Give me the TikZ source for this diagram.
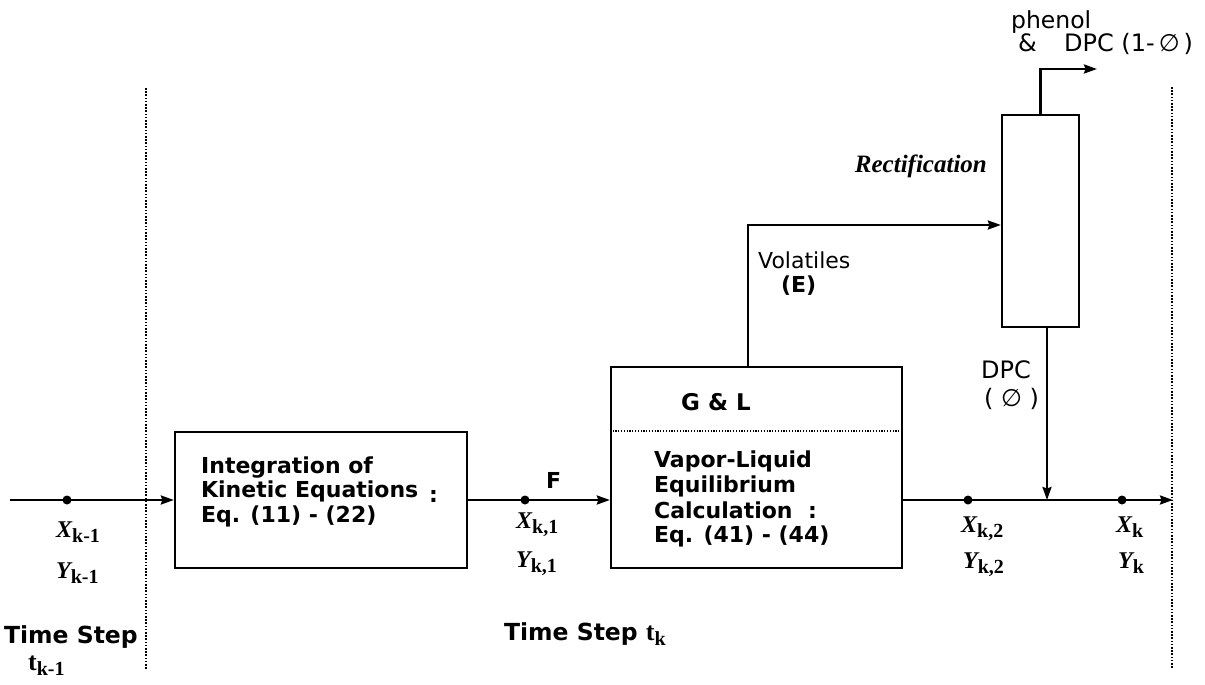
\documentclass[tikz,border=0pt]{standalone}
\usepackage{fontspec}
\usetikzlibrary{arrows.meta}
\newfontfamily\dv{DejaVu Sans}
\newfontfamily\tm{Liberation Serif}
\newcommand{\lsub}[1]{\raisebox{-5pt}{\fontsize{20}{20}\selectfont\tm\bfseries #1}}
\newcommand{\varlbl}[2]{{\fontsize{24}{24}\selectfont\tm\bfseries\itshape #1}\lsub{#2}}
\begin{document}
\begin{tikzpicture}[x=1pt,y=-1pt,
  line width=2.3pt,
  arr/.style={-{Stealth[length=13pt,width=9pt,inset=1.5pt]}},
  box/.style={draw,rectangle,inner sep=0pt},
  dot/.style={circle,fill,inner sep=0pt,minimum size=9pt},
  bl/.style={inner sep=0pt,anchor=base west,font=\dv\bfseries\fontsize{22}{25}\selectfont},
  rl/.style={inner sep=0pt,anchor=base west,font=\dv\fontsize{22}{25}\selectfont},
  vl/.style={inner sep=0pt,anchor=base west},
  sep/.style={line width=2.6pt,dash pattern=on 1.6pt off 1.6pt}
]
\useasboundingbox (0,0) rectangle (1205,685);

% boxes
\node[box,minimum width=292pt,minimum height=136pt] (b1) at (321,500) {};
\node[box,minimum width=291pt,minimum height=201pt] (b2) at (756.5,467.5) {};
\node[box,minimum width=77pt,minimum height=212pt] (col) at (1040.5,221) {};
\coordinate (dv) at (756.5,431);
\draw[line width=1.3pt,dash pattern=on 1.1pt off 1.7pt] (dv -| b2.west) -- (dv -| b2.east);

% time step separators
\coordinate (l1) at (146,88);
\coordinate (l2) at (146,670);
\coordinate (r1) at (1172,87);
\coordinate (r2) at (1172,668);
\draw[sep] (l1) -- (l2);
\draw[sep] (r1) -- (r2);

% main stream
\coordinate (start) at (10,500);
\coordinate (end) at (1173,500);
\coordinate (dj) at (1047,500);
\draw[arr] (start) -- (b1.west);
\draw[arr] (b1.east) -- (b2.west |- b1.east);
\draw[arr] (b2.east |- end) -- (end);
\node[dot] (d0) at (67,500) {};
\node[dot] (d1) at (525,500) {};
\node[dot] (d2) at (968,500) {};
\node[dot] (d3) at (1122,500) {};

% volatiles and rectification
\coordinate (vk) at (748,225);
\draw[arr] (b2.north -| vk) -- (vk) -- (vk -| col.west);
\coordinate (o1) at (1097,69);
\draw[arr] (col.north) |- (o1);
\draw[arr] (col.south -| dj) -- (dj);

% box texts
\node[bl] (t1a) at (200,473) {Integration of};
\node[bl] (t1b) at (200,497) {Kinetic Equations};
\node[bl] (t1c) at (428,502) {:};
\node[bl] (t1d) at (200,522) {Eq. (11) - (22)};
\node[bl,font=\dv\bfseries\fontsize{23}{25}\selectfont] (gl) at (680,410) {G \& L};
\node[bl] (t2a) at (653,467) {Vapor-Liquid};
\node[bl] (t2b) at (653,492) {Equilibrium};
\node[bl] (t2c) at (653,518) {Calculation};
\node[bl] (t2d) at (807,518) {:};
\node[bl] (t2e) at (653,542) {Eq. (41) - (44)};

% stream labels
\node[bl] (f) at (545,488) {F};
\node[rl] (vol) at (757,268) {Volatiles};
\node[bl] (ve) at (780,292) {(E)};
\node[inner sep=0pt,anchor=base east,font=\tm\bfseries\itshape\fontsize{25}{25}\selectfont] (rect) at (988,172) {Rectification};
\node[rl,font=\dv\fontsize{23.5}{25}\selectfont] (ph) at (1010,29) {phenol};
\node[rl,font=\dv\fontsize{24}{25}\selectfont] (amp) at (1017,52) {\&};
\node[rl,font=\dv\fontsize{24}{25}\selectfont] (dpc1) at (1063,52) {DPC (1-\,∅\,)};
\node[rl,font=\dv\fontsize{24}{25}\selectfont] (dpc2) at (980,378) {DPC};
\node[rl,font=\dv\fontsize{24}{25}\selectfont] (dpc3) at (983,406) {( ∅ )};

% state labels
\node[vl] (x0) at (55,537) {\varlbl{X}{k-1}};
\node[vl] (y0) at (55,578) {\varlbl{Y}{k-1}};
\node[vl] (x1) at (515,528) {\varlbl{X}{k,1}};
\node[vl] (y1) at (515,567) {\varlbl{Y}{k,1}};
\node[vl] (x2) at (960,532) {\varlbl{X}{k,2}};
\node[vl] (y2) at (962,568) {\varlbl{Y}{k,2}};
\node[vl] (x3) at (1115,532) {\varlbl{X}{k}};
\node[vl] (y3) at (1117,568) {\varlbl{Y}{k}};

% time steps
\node[bl,font=\dv\bfseries\fontsize{23.5}{25}\selectfont] (ts0) at (3,643) {Time Step};
\node[vl] (tk0) at (27,670) {{\fontsize{26}{26}\selectfont\tm\bfseries t}\lsub{k-1}};
\node[bl,font=\dv\bfseries\fontsize{23.5}{25}\selectfont] (ts1) at (503,640) {Time Step {\fontsize{26}{26}\selectfont\tm\bfseries t}\lsub{k}};
\end{tikzpicture}
\end{document}
